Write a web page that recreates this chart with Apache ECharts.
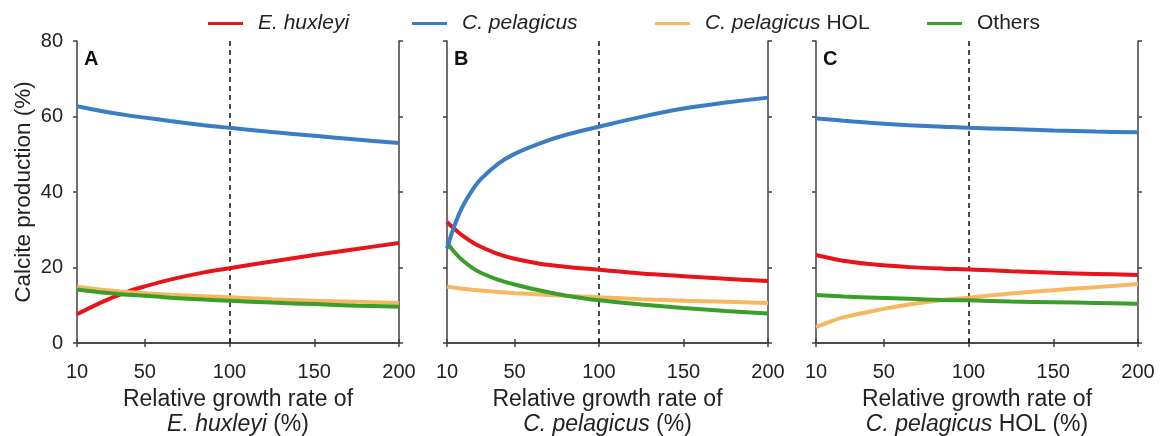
<!DOCTYPE html>
<html>
<head>
<meta charset="utf-8">
<title>Calcite production vs relative growth rate</title>
<script src="https://cdn.jsdelivr.net/npm/echarts@6/dist/echarts.min.js"></script>
<style>
  html, body { margin: 0; padding: 0; background: #fff; }
  #chart { width: 1162px; height: 436px; }
</style>
</head>
<body>
<div id="chart"></div>
<script>
// Tick labels
const xTicks = [10, 50, 100, 150, 200];
const yTicks = [0, 20, 40, 60, 80];

// Panel A: growth rate of E. huxleyi varied
const rateA = [10, 25, 40, 50, 65, 85, 100, 125, 150, 175, 200];
const ehuxA = [7.6, 10.9, 13.6, 15.0, 16.8, 18.7, 19.8, 21.6, 23.3, 24.9, 26.5];
const cpelA = [62.7, 61.4, 60.3, 59.7, 58.8, 57.7, 57.0, 55.9, 54.9, 53.9, 53.0];
const holA = [14.9, 14.1, 13.5, 13.2, 12.8, 12.4, 12.1, 11.6, 11.2, 10.9, 10.6];
const othA = [14.2, 13.4, 12.8, 12.5, 12.0, 11.5, 11.2, 10.7, 10.3, 9.9, 9.6];

// Panel B: growth rate of C. pelagicus varied
const rateB = [10, 12, 14, 17, 20, 25, 30, 40, 50, 65, 80, 100, 125, 150, 175, 200];
const ehuxB = [32.1, 31.2, 30.4, 29.2, 28.2, 26.7, 25.5, 23.6, 22.3, 21.0, 20.2, 19.4, 18.4, 17.7, 17.0, 16.4];
const cpelB = [25.0, 28.0, 30.6, 34.0, 36.8, 40.5, 43.4, 47.4, 50.1, 52.9, 55.1, 57.3, 59.9, 62.1, 63.7, 65.0];
const holB = [14.9, 14.8, 14.7, 14.5, 14.35, 14.1, 13.9, 13.5, 13.2, 12.85, 12.5, 12.1, 11.6, 11.2, 10.9, 10.6];
const othB = [26.8, 25.4, 24.3, 22.8, 21.6, 19.9, 18.6, 16.8, 15.5, 13.9, 12.6, 11.3, 10.2, 9.3, 8.5, 7.8];

// Panel C: growth rate of C. pelagicus HOL varied
const rateC = [10, 18, 26, 46, 65, 85, 100, 125, 150, 175, 200];
const ehuxC = [23.3, 22.5, 21.8, 20.7, 20.1, 19.7, 19.5, 19.0, 18.6, 18.3, 18.0];
const cpelC = [59.5, 59.2, 58.9, 58.2, 57.7, 57.3, 57.0, 56.7, 56.3, 56.0, 55.8];
const holC = [4.2, 5.6, 6.8, 8.7, 10.2, 11.4, 12.0, 13.1, 14.0, 14.8, 15.6];
const othC = [12.7, 12.5, 12.3, 12.0, 11.7, 11.4, 11.3, 11.0, 10.8, 10.6, 10.4];

const panelLetters = ['A', 'B', 'C'];
const axisTitles = [
  'Relative growth rate of\n{i|E. huxleyi} (%)',
  'Relative growth rate of\n{i|C. pelagicus} (%)',
  'Relative growth rate of\n{i|C. pelagicus} HOL (%)'
];
const speciesNames = ['E. huxleyi', 'C. pelagicus', 'C. pelagicus HOL', 'Others'];
const speciesColors = ['#e8141b', '#3a7dc2', '#f7b760', '#3a9e2a'];
const referenceRate = 100;

const panels = [
  { rate: rateA, values: [ehuxA, cpelA, holA, othA] },
  { rate: rateB, values: [ehuxB, cpelB, holB, othB] },
  { rate: rateC, values: [ehuxC, cpelC, holC, othC] }
];

const FONT = '"Liberation Sans", Arial, sans-serif';
const AXIS_COLOR = '#463e3e';
const TEXT_COLOR = '#222';

const gridBoxes = [
  { left: 77, width: 322 },
  { left: 447, width: 321 },
  { left: 816, width: 322 }
];

const grids = [], xAxes = [], yAxes = [], series = [], graphics = [];

const lineAxis = { show: true, lineStyle: { color: AXIS_COLOR, width: 1.5 } };
const tickStyle = { show: true, inside: false, length: 4, lineStyle: { color: AXIS_COLOR, width: 1.5 } };

panels.forEach((p, i) => {
  grids.push({
    left: gridBoxes[i].left, width: gridBoxes[i].width, top: 41, height: 302,
    containLabel: false, outerBoundsMode: 'none'
  });

  // bottom axis with labels and title
  xAxes.push({
    gridIndex: i, type: 'value', min: 10, max: 200, position: 'bottom',
    axisLine: lineAxis,
    axisTick: Object.assign({ customValues: xTicks }, tickStyle),
    axisLabel: { customValues: xTicks, margin: 19, fontSize: 20, color: TEXT_COLOR, fontFamily: FONT },
    splitLine: { show: false },
    name: axisTitles[i], nameLocation: 'middle', nameGap: 44,
    nameTextStyle: {
      fontSize: 23, color: TEXT_COLOR, fontFamily: FONT, lineHeight: 25, align: 'center',
      rich: { i: { fontStyle: 'italic', fontSize: 23, color: TEXT_COLOR, fontFamily: FONT, lineHeight: 25 } }
    }
  });
  // top axis: ticks only
  xAxes.push({
    gridIndex: i, type: 'value', min: 10, max: 200, position: 'top',
    axisLine: lineAxis,
    axisTick: Object.assign({ customValues: xTicks }, tickStyle),
    axisLabel: { show: false }, splitLine: { show: false }
  });

  yAxes.push({
    gridIndex: i, type: 'value', min: 0, max: 80, interval: 20, position: 'left',
    axisLine: lineAxis, axisTick: tickStyle,
    axisLabel: { show: i === 0, margin: 14, fontSize: 20, color: TEXT_COLOR, fontFamily: FONT },
    splitLine: { show: false },
    name: i === 0 ? 'Calcite production (%)' : '', nameLocation: 'middle', nameGap: 42,
    nameTextStyle: { fontSize: 22.5, color: TEXT_COLOR, fontFamily: FONT }
  });
  yAxes.push({
    gridIndex: i, type: 'value', min: 0, max: 80, interval: 20, position: 'right',
    axisLine: lineAxis, axisTick: tickStyle,
    axisLabel: { show: false }, splitLine: { show: false }
  });

  p.values.forEach((vals, s) => {
    const item = {
      type: 'line', name: speciesNames[s],
      xAxisIndex: i * 2, yAxisIndex: i * 2,
      data: p.rate.map((r, k) => [r, vals[k]]),
      smooth: 0.35, showSymbol: false, symbol: 'none',
      lineStyle: { color: speciesColors[s], width: 4 },
      itemStyle: { color: speciesColors[s] },
      z: 3 + (s === 1 ? 1 : 0), silent: true
    };
    if (s === 0) {
      item.markLine = {
        silent: true, symbol: 'none', label: { show: false },
        lineStyle: { color: '#111', type: [5, 4], width: 1.5 },
        data: [{ xAxis: referenceRate }], z: 2
      };
    }
    series.push(item);
  });

  graphics.push({
    type: 'text', left: gridBoxes[i].left + 7, top: 49,
    style: { text: panelLetters[i], font: 'bold 20px ' + FONT, fill: '#111' }
  });
});

// one legend entry per species, spread across the top
const legendLeft = [203, 407, 650, 922];
const legendLabels = ['{i|E. huxleyi}', '{i|C. pelagicus}', '{i|C. pelagicus} HOL', 'Others'];
const legends = speciesNames.map((n, k) => ({
  data: [n], left: legendLeft[k], top: 8,
  icon: 'rect', itemWidth: 35, itemHeight: 3,
  selectedMode: false,
  formatter: () => legendLabels[k],
  textStyle: {
    fontSize: 21, color: TEXT_COLOR, fontFamily: FONT, padding: [0, 0, 0, 10],
    rich: { i: { fontStyle: 'italic', fontSize: 21, color: TEXT_COLOR, fontFamily: FONT } }
  }
}));

const chart = echarts.init(document.getElementById('chart'), null, { renderer: 'canvas' });
chart.setOption({
  animation: false,
  backgroundColor: '#fff',
  grid: grids,
  xAxis: xAxes,
  yAxis: yAxes,
  legend: legends,
  graphic: graphics,
  series: series
});
</script>
</body>
</html>
